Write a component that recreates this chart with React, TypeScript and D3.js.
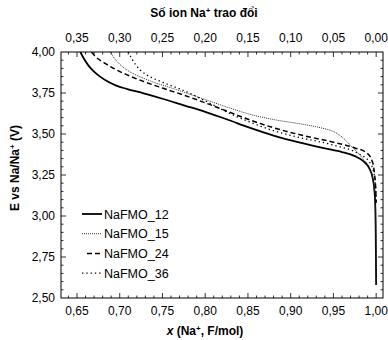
import React from 'react';
import * as d3 from 'd3';

type Pt = [number, number];

// x (Na+, F/mol), E (V)
const naFMO12: Pt[] = [
  [0.654, 4.0], [0.658, 3.96], [0.663, 3.92], [0.669, 3.885], [0.677, 3.85], [0.686, 3.82],
  [0.696, 3.795], [0.708, 3.775], [0.728, 3.748], [0.75, 3.715], [0.775, 3.675], [0.8, 3.635],
  [0.825, 3.59], [0.851, 3.54], [0.88, 3.49], [0.911, 3.447], [0.94, 3.412], [0.96, 3.39],
  [0.975, 3.365], [0.985, 3.335], [0.992, 3.29], [0.996, 3.23], [0.9985, 3.12], [0.9995, 2.9],
  [1.0, 2.58],
];
const naFMO15: Pt[] = [
  [0.689, 4.0], [0.694, 3.96], [0.7, 3.925], [0.708, 3.892], [0.718, 3.862], [0.728, 3.84],
  [0.74, 3.815], [0.755, 3.79], [0.775, 3.755], [0.8, 3.71], [0.825, 3.665], [0.851, 3.622],
  [0.88, 3.588], [0.911, 3.562], [0.935, 3.538], [0.95, 3.515], [0.958, 3.49], [0.972, 3.42],
  [0.985, 3.345], [0.993, 3.28], [0.997, 3.2], [0.9993, 3.05], [1.0, 2.6],
];
const naFMO24: Pt[] = [
  [0.667, 4.0], [0.672, 3.97], [0.68, 3.94], [0.689, 3.912], [0.698, 3.886], [0.708, 3.862],
  [0.728, 3.82], [0.75, 3.78], [0.775, 3.737], [0.8, 3.69], [0.825, 3.64], [0.851, 3.588],
  [0.88, 3.538], [0.911, 3.495], [0.95, 3.45], [0.975, 3.415], [0.989, 3.385], [0.995, 3.34],
  [0.998, 3.26], [0.9995, 3.16], [1.0, 3.08],
];
const naFMO36: Pt[] = [
  [0.71, 4.0], [0.714, 3.96], [0.719, 3.92], [0.724, 3.89], [0.731, 3.862], [0.739, 3.84],
  [0.755, 3.805], [0.775, 3.765], [0.8, 3.702], [0.825, 3.635], [0.851, 3.575], [0.88, 3.52],
  [0.911, 3.478], [0.95, 3.432], [0.981, 3.375], [0.992, 3.33], [0.997, 3.27], [0.9993, 3.18],
  [1.0, 3.08],
];

const seriesNames = ['NaFMO_12', 'NaFMO_15', 'NaFMO_24', 'NaFMO_36'];
const seriesData = [naFMO12, naFMO15, naFMO24, naFMO36];
const seriesStyle = [
  { dash: 'none', width: 1.8, color: '#000' },
  { dash: '1,1', width: 1, color: '#333' },
  { dash: '5,3', width: 1.5, color: '#000' },
  { dash: '1.3,3', width: 1.3, color: '#000' },
];

const xTicks = [0.65, 0.7, 0.75, 0.8, 0.85, 0.9, 0.95, 1.0];
const yTicks = [2.5, 2.75, 3.0, 3.25, 3.5, 3.75, 4.0];

const fmt = (v: number) => v.toFixed(2).replace('.', ',');

export default function App() {
  const width = 388;
  const height = 340;
  const left = 61, right = 383, top = 52, bottom = 298;

  const x = d3.scaleLinear().domain([0.6313, 1.008]).range([left, right]);
  const y = d3.scaleLinear().domain([2.5, 4.0]).range([bottom, top]);

  const line = d3.line<Pt>().x(d => x(d[0])).y(d => y(d[1])).curve(d3.curveMonotoneX);

  const xMinor = d3.range(64, 101).map(v => v / 100);
  const yMinor = d3.range(50, 81, 1).map(v => v / 20);
  const font = 'Liberation Sans, Arial, sans-serif';

  return (
    <svg width={width} height={height} style={{ position: 'absolute', left: 0, top: 0 }} fontFamily={font}>
      <defs>
        <clipPath id="plot"><rect x={left} y={top} width={right - left} height={bottom - top} /></clipPath>
      </defs>
      <rect width={width} height={height} fill="#fff" />

      {/* ticks, all pointing inward */}
      {xMinor.filter(v => x(v) > left && x(v) < right).map(v => {
        const major = xTicks.some(t => Math.abs(t - v) < 1e-6);
        const len = major ? 5 : 2.5;
        return (
          <g key={'xt' + v} stroke="#000" strokeWidth={0.8}>
            <line x1={x(v)} x2={x(v)} y1={bottom} y2={bottom - len} />
            <line x1={x(v)} x2={x(v)} y1={top} y2={top + len} />
          </g>
        );
      })}
      {yMinor.filter(v => y(v) > top && y(v) < bottom).map(v => {
        const major = yTicks.some(t => Math.abs(t - v) < 1e-6);
        const len = major ? 5 : 2.5;
        return (
          <g key={'yt' + v} stroke="#000" strokeWidth={0.8}>
            <line x1={left} x2={left + len} y1={y(v)} y2={y(v)} />
            <line x1={right} x2={right - len} y1={y(v)} y2={y(v)} />
          </g>
        );
      })}

      {/* curves */}
      <g clipPath="url(#plot)">
        {seriesData.map((d, i) => (
          <path key={seriesNames[i]} d={line(d) || ''} fill="none"
            stroke={seriesStyle[i].color} strokeWidth={seriesStyle[i].width}
            strokeDasharray={seriesStyle[i].dash} />
        ))}
      </g>

      <rect x={left} y={top} width={right - left} height={bottom - top} fill="none" stroke="#000" strokeWidth={1} />

      {/* tick labels */}
      {xTicks.map(t => (
        <text key={'xb' + t} x={x(t)} y={bottom + 17} textAnchor="middle" fontSize={12}>{fmt(t)}</text>
      ))}
      {xTicks.map(t => (
        <text key={'xa' + t} x={x(t)} y={top - 10} textAnchor="middle" fontSize={12}>{fmt(1 - t)}</text>
      ))}
      {yTicks.map(t => (
        <text key={'yl' + t} x={left - 6} y={y(t) + 4} textAnchor="end" fontSize={12}>{fmt(t)}</text>
      ))}

      {/* axis titles */}
      <text x={204} y={17} textAnchor="middle" fontSize={12} fontWeight="bold">
        Số ion Na<tspan fontSize={8} dy={-4}>+</tspan><tspan dy={4}> trao đổi</tspan>
      </text>
      <text x={205} y={335} textAnchor="middle" fontSize={12} fontWeight="bold">
        <tspan fontStyle="italic">x</tspan> (Na<tspan fontSize={8} dy={-4}>+</tspan><tspan dy={4}>, F/mol)</tspan>
      </text>
      <text transform={`translate(19,168) rotate(-90)`} textAnchor="middle" fontSize={12} fontWeight="bold">
        E vs Na/Na<tspan fontSize={8} dy={-4}>+</tspan><tspan dy={4}> (V)</tspan>
      </text>

      {/* legend */}
      {seriesNames.map((name, i) => {
        const ly = 214 + i * 19.7;
        return (
          <g key={'lg' + name}>
            <line x1={i === 2 ? 87 : 82} x2={i === 2 ? 100 : 102} y1={ly} y2={ly}
              stroke={seriesStyle[i].color} strokeWidth={seriesStyle[i].width}
              strokeDasharray={seriesStyle[i].dash} />
            <text x={104} y={ly + 4.5} fontSize={12.5}>{name}</text>
          </g>
        );
      })}
    </svg>
  );
}
